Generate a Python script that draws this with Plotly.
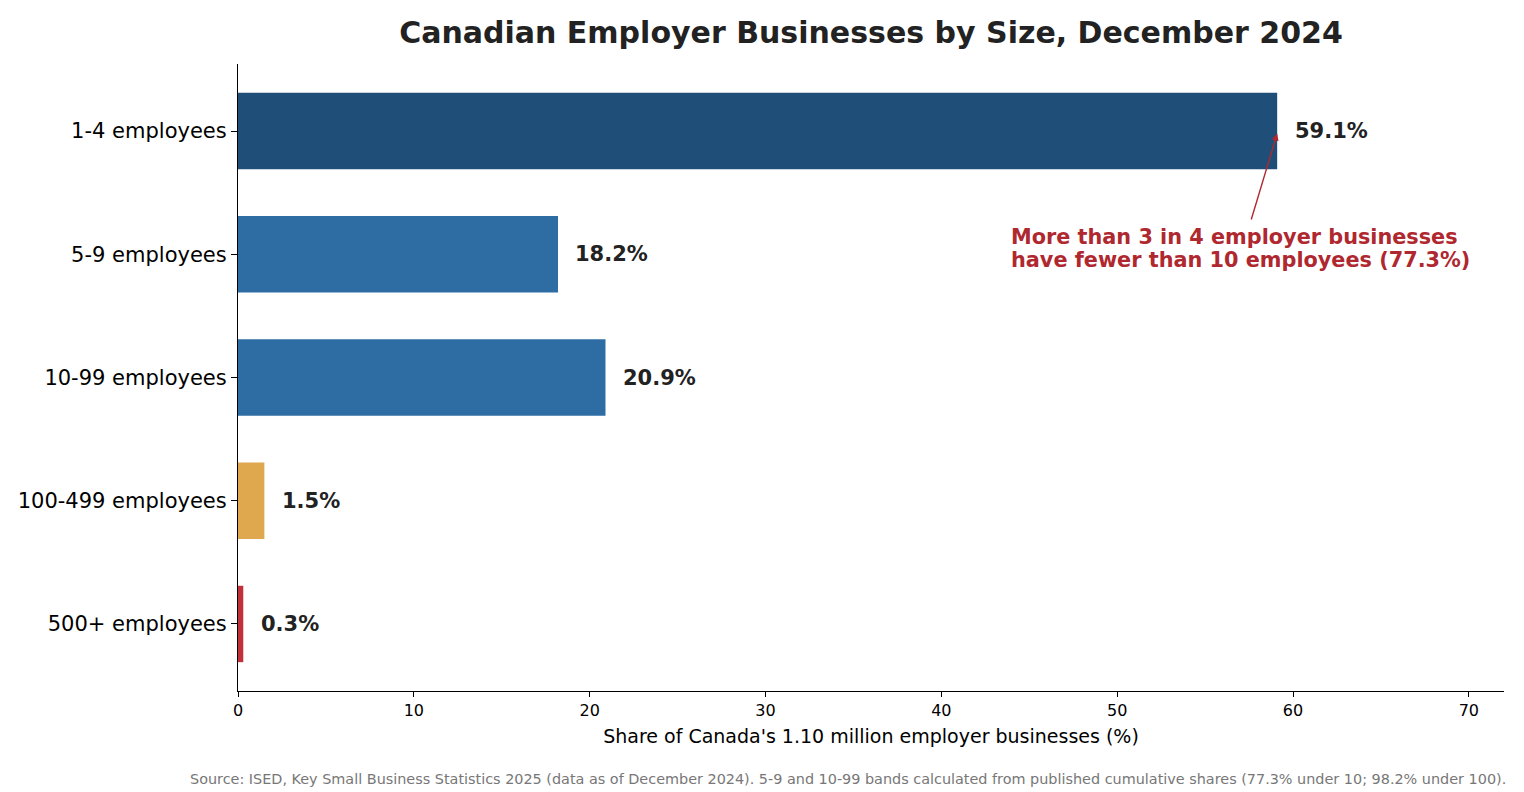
import plotly.graph_objects as go

# ------ Data
categories = ["1-4 employees", "5-9 employees", "10-99 employees", "100-499 employees", "500+ employees"]
shares = [59.1, 18.2, 20.9, 1.5, 0.3]
bar_colors = ["#1f4e79", "#2e6ca4", "#2e6ca4", "#e0a84e", "#c0313a"]
x_ticks = [0, 10, 20, 30, 40, 50, 60, 70]

title = "Canadian Employer Businesses by Size, December 2024"
x_title = "Share of Canada's 1.10 million employer businesses (%)"
note_lines = ["More than 3 in 4 employer businesses", "have fewer than 10 employees (77.3%)"]
source = ("Source: ISED, Key Small Business Statistics 2025 (data as of December 2024). "
          "5-9 and 10-99 bands calculated from published cumulative shares (77.3% under 10; 98.2% under 100).")

font = "DejaVu Sans"
red = "#b0282f"

fig = go.Figure()
fig.add_trace(go.Bar(
    x=shares, y=categories, orientation="h",
    marker=dict(color=bar_colors, line=dict(width=0)),
    width=0.62, hoverinfo="x+y",
))

# value labels
for cat, val in zip(categories, shares):
    fig.add_annotation(x=val + 0.88, y=cat, text=f"<b>{val:.1f}%</b>", showarrow=False,
                       xanchor="left", yanchor="middle",
                       font=dict(family=font, size=21, color="#222222"))

# callout (two lines, tighter spacing like the original)
for line, yy in zip(note_lines, [0.860, 1.047]):
    fig.add_annotation(x=43.85, y=yy, xref="x", yref="y", text=f"<b>{line}</b>",
                       showarrow=False, xanchor="left", yanchor="middle", align="left",
                       font=dict(family=font, size=20.8, color=red))
fig.add_annotation(x=shares[0], y=0.02, ax=57.6, ay=0.73, xref="x", yref="y",
                   axref="x", ayref="y", text="", showarrow=True,
                   arrowhead=2, arrowsize=1, arrowwidth=1.4, arrowcolor=red)

# source note
fig.add_annotation(x=1.0032, y=-0.1404, xref="paper", yref="paper", text=source,
                   showarrow=False, xanchor="right", yanchor="middle",
                   font=dict(family=font, size=14.4, color="#777777"))

fig.update_layout(
    width=1524, height=792,
    margin=dict(l=238, r=20, t=64, b=101),
    paper_bgcolor="white", plot_bgcolor="white",
    font=dict(family=font, color="black"),
    showlegend=False,
    title=dict(text=f"<b>{title}</b>", x=(238 + 1504) / 2 / 1524, xanchor="center",
               y=1 - 32 / 792, yanchor="middle",
               font=dict(family=font, size=30, color="#222222")),
)
fig.update_xaxes(range=[0, 72], tickvals=x_ticks, showgrid=False, zeroline=False,
                 showline=True, linecolor="black", linewidth=1.2,
                 ticks="outside", ticklen=5, tickcolor="black",
                 tickfont=dict(family=font, size=16, color="black"),
                 title=dict(text=x_title, font=dict(family=font, size=19, color="black"), standoff=10))
fig.update_yaxes(range=[4.544, -0.544], showgrid=False, zeroline=False,
                 showline=True, linecolor="black", linewidth=1.2,
                 ticks="outside", ticklen=6, tickcolor="black",
                 tickfont=dict(family=font, size=21, color="black"))

fig.write_html("out.html", config={"displayModeBar": False},
               post_script="document.body.style.margin='0';")
